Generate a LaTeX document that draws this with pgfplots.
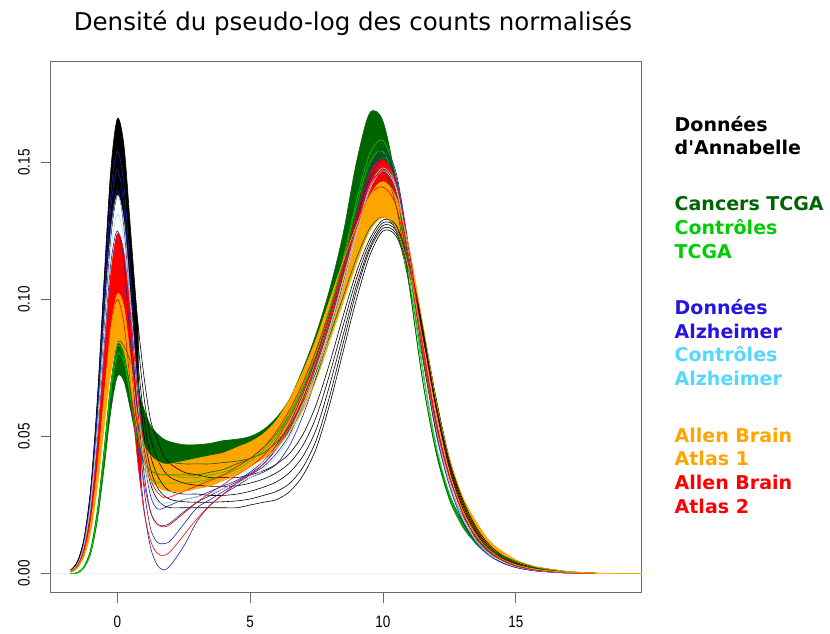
\documentclass[border=0pt]{standalone}
\usepackage{fontspec}
\setmainfont{DejaVu Sans}
\newfontfamily\tickfont[FakeStretch=0.82]{Liberation Sans}
\usepackage{pgfplots}
\pgfplotsset{compat=1.18}
\usepackage{pgfplotstable}
\usepgfplotslibrary{fillbetween}

\definecolor{axgray}{RGB}{105,105,105}
\definecolor{tcgadark}{RGB}{0,100,0}
\definecolor{tcgalight}{RGB}{0,205,0}
\definecolor{alzline}{RGB}{30,30,160}
\definecolor{alztext}{RGB}{40,20,225}
\definecolor{alzctrl}{RGB}{173,216,230}
\definecolor{alzctrltext}{RGB}{85,215,255}
\definecolor{abaone}{RGB}{255,165,0}
\definecolor{abatwo}{RGB}{255,0,0}

% Annabelle (black)
\pgfplotstableread{
x lo b4 mid b5 hi
-1.75 0.0010 0.0011 0.0012 0.0012 0.0013
-1.5 0.0036 0.0038 0.0041 0.0043 0.0045
-1.25 0.0107 0.0113 0.0120 0.0126 0.0131
-1 0.0264 0.0278 0.0292 0.0305 0.0317
-0.75 0.0536 0.0565 0.0592 0.0618 0.0644
-0.5 0.0897 0.0945 0.0990 0.1032 0.1073
-0.25 0.1225 0.1290 0.1355 0.1413 0.1470
0 0.1380 0.1450 0.1540 0.1600 0.1660
0.25 0.1285 0.1350 0.1430 0.1495 0.1560
0.5 0.1007 0.1060 0.1120 0.1185 0.1250
0.75 0.0696 0.0750 0.0800 0.0870 0.0940
1 0.0454 0.0510 0.0570 0.0645 0.0720
1.25 0.0327 0.0380 0.0430 0.0495 0.0560
1.5 0.0271 0.0315 0.0360 0.0420 0.0490
1.75 0.0248 0.0285 0.0320 0.0375 0.0430
2 0.0240 0.0270 0.0300 0.0350 0.0400
2.5 0.0240 0.0262 0.0290 0.0330 0.0370
3 0.0240 0.0260 0.0290 0.0322 0.0360
3.5 0.0240 0.0260 0.0285 0.0318 0.0350
4 0.0240 0.0262 0.0285 0.0318 0.0350
4.5 0.0240 0.0265 0.0290 0.0320 0.0350
5 0.0250 0.0272 0.0300 0.0330 0.0360
5.5 0.0260 0.0285 0.0315 0.0345 0.0375
6 0.0270 0.0300 0.0335 0.0368 0.0400
6.5 0.0300 0.0330 0.0370 0.0405 0.0440
7 0.0360 0.0390 0.0430 0.0470 0.0510
7.5 0.0460 0.0490 0.0530 0.0575 0.0620
8 0.0620 0.0650 0.0690 0.0730 0.0770
8.5 0.0810 0.0840 0.0870 0.0905 0.0940
9 0.1000 0.1030 0.1050 0.1075 0.1100
9.5 0.1160 0.1180 0.1190 0.1205 0.1220
10 0.1250 0.1260 0.1270 0.1280 0.1290
10.5 0.1230 0.1240 0.1250 0.1260 0.1270
11 0.1090 0.1100 0.1110 0.1120 0.1130
11.5 0.0860 0.0870 0.0880 0.0890 0.0900
12 0.0600 0.0610 0.0620 0.0630 0.0640
12.5 0.0380 0.0390 0.0400 0.0410 0.0420
13 0.0230 0.0240 0.0250 0.0260 0.0270
13.5 0.0140 0.0148 0.0155 0.0162 0.0170
14 0.0080 0.0086 0.0092 0.0098 0.0105
14.5 0.0048 0.0052 0.0056 0.0060 0.0065
15 0.0028 0.0031 0.0034 0.0037 0.0040
15.5 0.0016 0.0018 0.0020 0.0022 0.0025
16 0.0009 0.0010 0.0012 0.0013 0.0015
17 0.0002 0.0002 0.0003 0.0003 0.0004
18 0.0000 0.0000 0.0000 0.0000 0.0000
}\annabelle

% Cancers TCGA (dark green)
\pgfplotstableread{
x lo low hi
-1.75 0.0000 0.0000 0.0000
-1.5 0.0003 0.0003 0.0004
-1.25 0.0023 0.0025 0.0027
-1 0.0074 0.0080 0.0091
-0.75 0.0196 0.0210 0.0235
-0.5 0.0385 0.0410 0.0455
-0.25 0.0591 0.0625 0.0692
0 0.0720 0.0760 0.0840
0.25 0.0701 0.0745 0.0830
0.5 0.0595 0.0650 0.0770
0.75 0.0476 0.0550 0.0680
1 0.0404 0.0480 0.0600
1.25 0.0375 0.0440 0.0540
1.5 0.0363 0.0420 0.0510
1.75 0.0360 0.0410 0.0490
2 0.0360 0.0405 0.0480
2.5 0.0360 0.0400 0.0470
3 0.0360 0.0400 0.0470
3.5 0.0370 0.0400 0.0475
4 0.0380 0.0405 0.0485
4.5 0.0400 0.0410 0.0490
5 0.0420 0.0420 0.0500
5.5 0.0460 0.0440 0.0525
6 0.0510 0.0480 0.0570
6.5 0.0580 0.0540 0.0640
7 0.0680 0.0630 0.0750
7.5 0.0800 0.0740 0.0880
8 0.0950 0.0870 0.1040
8.5 0.1120 0.1010 0.1240
9 0.1300 0.1150 0.1500
9.5 0.1440 0.1260 0.1680
10 0.1470 0.1300 0.1650
10.5 0.1340 0.1250 0.1420
11 0.1040 0.1050 0.1050
11.5 0.0700 0.0780 0.0700
12 0.0440 0.0520 0.0450
12.5 0.0270 0.0330 0.0290
13 0.0170 0.0210 0.0190
13.5 0.0110 0.0135 0.0130
14 0.0070 0.0090 0.0090
14.5 0.0045 0.0060 0.0065
15 0.0030 0.0040 0.0045
15.5 0.0020 0.0026 0.0030
16 0.0012 0.0017 0.0020
17 0.0004 0.0006 0.0007
18 0.0000 0.0002 0.0002
}\tcgacancer

% Controles TCGA (light green)
\pgfplotstableread{
x a b
-1.75 0.0000 0.0000
-1.5 0.0004 0.0002
-1.25 0.0025 0.0020
-1 0.0082 0.0078
-0.75 0.0218 0.0215
-0.5 0.0431 0.0435
-0.25 0.0661 0.0680
0 0.0800 0.0830
0.25 0.0771 0.0790
0.5 0.0641 0.0640
0.75 0.0498 0.0480
1 0.0412 0.0385
1.25 0.0377 0.0345
1.5 0.0364 0.0332
1.75 0.0360 0.0330
2 0.0360 0.0330
2.5 0.0350 0.0330
3 0.0350 0.0335
3.5 0.0360 0.0345
4 0.0370 0.0360
4.5 0.0390 0.0380
5 0.0420 0.0410
5.5 0.0460 0.0450
6 0.0510 0.0500
6.5 0.0590 0.0580
7 0.0690 0.0680
7.5 0.0820 0.0810
8 0.0970 0.0970
8.5 0.1140 0.1150
9 0.1340 0.1360
9.5 0.1500 0.1530
10 0.1540 0.1580
10.5 0.1400 0.1440
11 0.1080 0.1110
11.5 0.0730 0.0750
12 0.0460 0.0470
12.5 0.0280 0.0290
13 0.0170 0.0180
13.5 0.0110 0.0115
14 0.0070 0.0072
14.5 0.0045 0.0046
15 0.0030 0.0030
15.5 0.0020 0.0020
16 0.0012 0.0012
17 0.0004 0.0004
18 0.0000 0.0000
}\tcgactrl

% Donnees Alzheimer (blue)
\pgfplotstableread{
x b1 b2 b3 b4
-1.75 0.0009 0.0008 0.0009 0.0009
-1.5 0.0038 0.0030 0.0034 0.0036
-1.25 0.0118 0.0095 0.0106 0.0112
-1 0.0297 0.0239 0.0269 0.0283
-0.75 0.0608 0.0494 0.0553 0.0585
-0.5 0.1013 0.0828 0.0924 0.0975
-0.25 0.1383 0.1128 0.1260 0.1330
0 0.1540 0.1250 0.1400 0.1475
0.25 0.1413 0.1128 0.1260 0.1335
0.5 0.1073 0.0828 0.0944 0.1000
0.75 0.0703 0.0494 0.0585 0.0640
1 0.0427 0.0239 0.0314 0.0370
1.25 0.0283 0.0095 0.0164 0.0225
1.5 0.0236 0.0031 0.0114 0.0180
1.75 0.0239 0.0013 0.0109 0.0175
2 0.0250 0.0030 0.0120 0.0185
2.5 0.0270 0.0100 0.0180 0.0225
3 0.0280 0.0190 0.0240 0.0260
3.5 0.0300 0.0250 0.0270 0.0285
4 0.0320 0.0290 0.0300 0.0310
4.5 0.0340 0.0320 0.0330 0.0335
5 0.0370 0.0350 0.0360 0.0365
5.5 0.0410 0.0370 0.0390 0.0400
6 0.0470 0.0400 0.0440 0.0455
6.5 0.0550 0.0470 0.0510 0.0530
7 0.0660 0.0580 0.0620 0.0640
7.5 0.0790 0.0720 0.0760 0.0775
8 0.0940 0.0880 0.0910 0.0925
8.5 0.1110 0.1060 0.1090 0.1100
9 0.1300 0.1250 0.1280 0.1290
9.5 0.1470 0.1410 0.1440 0.1455
10 0.1550 0.1470 0.1510 0.1530
10.5 0.1460 0.1390 0.1430 0.1445
11 0.1170 0.1120 0.1150 0.1160
11.5 0.0820 0.0790 0.0810 0.0815
12 0.0530 0.0510 0.0520 0.0525
12.5 0.0330 0.0320 0.0330 0.0330
13 0.0200 0.0190 0.0200 0.0200
13.5 0.0120 0.0110 0.0120 0.0120
14 0.0070 0.0065 0.0070 0.0070
14.5 0.0040 0.0038 0.0040 0.0040
15 0.0024 0.0022 0.0023 0.0023
15.5 0.0014 0.0013 0.0013 0.0013
16 0.0008 0.0007 0.0008 0.0008
17 0.0002 0.0002 0.0002 0.0002
18 0.0000 0.0000 0.0000 0.0000
}\alzdata

% Controles Alzheimer (light blue)
\pgfplotstableread{
x a b
-1.75 0.0008 0.0009
-1.5 0.0033 0.0035
-1.25 0.0101 0.0108
-1 0.0249 0.0268
-0.75 0.0514 0.0548
-0.5 0.0858 0.0912
-0.25 0.1173 0.1240
0 0.1310 0.1380
0.25 0.1218 0.1280
0.5 0.0948 0.0995
0.75 0.0644 0.0680
1 0.0419 0.0450
1.25 0.0305 0.0340
1.5 0.0260 0.0295
1.75 0.0258 0.0290
2 0.0260 0.0290
2.5 0.0270 0.0300
3 0.0280 0.0310
3.5 0.0290 0.0320
4 0.0310 0.0340
4.5 0.0330 0.0360
5 0.0350 0.0380
5.5 0.0380 0.0410
6 0.0430 0.0455
6.5 0.0500 0.0520
7 0.0600 0.0620
7.5 0.0730 0.0750
8 0.0880 0.0900
8.5 0.1050 0.1070
9 0.1240 0.1250
9.5 0.1400 0.1410
10 0.1470 0.1480
10.5 0.1400 0.1410
11 0.1140 0.1150
11.5 0.0810 0.0820
12 0.0530 0.0540
12.5 0.0330 0.0340
13 0.0200 0.0205
13.5 0.0120 0.0125
14 0.0070 0.0073
14.5 0.0042 0.0044
15 0.0025 0.0026
15.5 0.0015 0.0016
16 0.0009 0.0009
17 0.0002 0.0002
18 0.0000 0.0000
}\alzctrldata

% Allen Brain Atlas 2 (red)
\pgfplotstableread{
x lo mid hi
-1.75 0.0006 0.0007 0.0007
-1.5 0.0025 0.0027 0.0030
-1.25 0.0077 0.0085 0.0093
-1 0.0192 0.0210 0.0229
-0.75 0.0395 0.0432 0.0472
-0.5 0.0659 0.0722 0.0791
-0.25 0.0899 0.0990 0.1090
0 0.1000 0.1120 0.1240
0.25 0.0909 0.1035 0.1170
0.5 0.0679 0.0800 0.0941
0.75 0.0422 0.0535 0.0672
1 0.0227 0.0335 0.0464
1.25 0.0119 0.0225 0.0345
1.5 0.0074 0.0180 0.0297
1.75 0.0066 0.0170 0.0277
2 0.0081 0.0180 0.0280
2.5 0.0140 0.0220 0.0300
3 0.0200 0.0260 0.0320
3.5 0.0250 0.0295 0.0340
4 0.0290 0.0325 0.0360
4.5 0.0330 0.0360 0.0390
5 0.0360 0.0390 0.0420
5.5 0.0400 0.0430 0.0460
6 0.0460 0.0490 0.0520
6.5 0.0540 0.0570 0.0600
7 0.0640 0.0670 0.0700
7.5 0.0770 0.0795 0.0820
8 0.0920 0.0940 0.0960
8.5 0.1090 0.1110 0.1130
9 0.1260 0.1285 0.1310
9.5 0.1380 0.1420 0.1460
10 0.1410 0.1460 0.1510
10.5 0.1340 0.1385 0.1430
11 0.1110 0.1140 0.1170
11.5 0.0800 0.0820 0.0840
12 0.0540 0.0550 0.0560
12.5 0.0350 0.0355 0.0360
13 0.0220 0.0220 0.0220
13.5 0.0130 0.0130 0.0130
14 0.0080 0.0080 0.0080
14.5 0.0048 0.0048 0.0048
15 0.0028 0.0028 0.0028
15.5 0.0017 0.0017 0.0017
16 0.0010 0.0010 0.0010
17 0.0003 0.0003 0.0003
18 0.0000 0.0000 0.0000
}\abatwodata

% Allen Brain Atlas 1 (orange)
\pgfplotstableread{
x lo hi
-1.75 0.0004 0.0005
-1.5 0.0020 0.0025
-1.25 0.0063 0.0077
-1 0.0154 0.0187
-0.75 0.0317 0.0384
-0.5 0.0533 0.0643
-0.25 0.0731 0.0890
0 0.0840 0.1020
0.25 0.0811 0.0970
0.5 0.0683 0.0780
0.75 0.0527 0.0580
1 0.0414 0.0470
1.25 0.0343 0.0430
1.5 0.0317 0.0410
1.75 0.0304 0.0400
2 0.0300 0.0400
2.5 0.0300 0.0410
3 0.0310 0.0420
3.5 0.0320 0.0430
4 0.0340 0.0440
4.5 0.0360 0.0460
5 0.0390 0.0480
5.5 0.0420 0.0510
6 0.0460 0.0560
6.5 0.0520 0.0640
7 0.0600 0.0740
7.5 0.0710 0.0860
8 0.0850 0.1000
8.5 0.0990 0.1140
9 0.1130 0.1270
9.5 0.1250 0.1380
10 0.1300 0.1430
10.5 0.1260 0.1370
11 0.1100 0.1180
11.5 0.0850 0.0910
12 0.0580 0.0630
12.5 0.0370 0.0420
13 0.0230 0.0280
13.5 0.0140 0.0190
14 0.0085 0.0120
14.5 0.0052 0.0080
15 0.0032 0.0050
15.5 0.0020 0.0032
16 0.0012 0.0020
17 0.0004 0.0007
18 0.0001 0.0002
19 0.0000 0.0001
19.7 0.0000 0.0000
}\abaonedata

\begin{document}
\begin{tikzpicture}
\begin{axis}[
    at={(50.7pt,40.3pt)}, anchor=south west,
    scale only axis, width=591pt, height=531.7pt,
    xmin=-2.51, xmax=19.74, ymin=-0.0070, ymax=0.1870,
    axis line style={draw=axgray, line width=0.9pt},
    tick style={draw=axgray, line width=0.9pt},
    tick align=outside, major tick length=10pt, tick pos=left,
    xtick={0,5,10,15}, xticklabels={0,5,10,15},
    ytick={0,0.05,0.1,0.15}, yticklabels={0.00,0.05,0.10,0.15},
    xticklabel style={font=\tickfont\fontsize{16.5}{18}\selectfont, anchor=base, yshift=-25pt},
    yticklabel style={font=\tickfont\fontsize{16.5}{18}\selectfont, rotate=90, anchor=base, yshift=11pt},
    dens/.style={smooth, line width=0.6pt},
  ]
  \addplot[draw=black!5, line width=0.8pt] coordinates {(-2.51,0) (19.74,0)};

  % Annabelle
  \addplot[dens, black, name path=blo] table[x=x, y=lo] {\annabelle};
  \addplot[dens, black, name path=bhi] table[x=x, y=hi] {\annabelle};
  \addplot[black] fill between[of=blo and bhi, soft clip={domain=-2:0.8}, on layer={}];
  \addplot[dens, black] table[x=x, y=b4] {\annabelle};
  \addplot[dens, black] table[x=x, y=mid] {\annabelle};
  \addplot[dens, black] table[x=x, y=b5] {\annabelle};

  % TCGA cancers
  \addplot[dens, tcgadark, name path=glo] table[x=x, y=lo] {\tcgacancer};
  \addplot[dens, tcgadark, name path=ghi] table[x=x, y=hi] {\tcgacancer};
  \addplot[tcgadark] fill between[of=glo and ghi, on layer={}];
  \addplot[dens, tcgadark] table[x=x, y=low] {\tcgacancer};

  % TCGA controls
  \addplot[dens, tcgalight] table[x=x, y=a] {\tcgactrl};
  \addplot[dens, tcgalight] table[x=x, y=b] {\tcgactrl};

  % Alzheimer
  \addplot[dens, alzline] table[x=x, y=b1] {\alzdata};
  \addplot[dens, alzline] table[x=x, y=b2] {\alzdata};
  \addplot[dens, alzline] table[x=x, y=b3] {\alzdata};
  \addplot[dens, alzline] table[x=x, y=b4] {\alzdata};
  \addplot[dens, alzctrl] table[x=x, y=a] {\alzctrldata};
  \addplot[dens, alzctrl] table[x=x, y=b] {\alzctrldata};

  % Allen Brain Atlas 2
  \addplot[dens, abatwo, name path=rlo] table[x=x, y=lo] {\abatwodata};
  \addplot[dens, abatwo, name path=rhi] table[x=x, y=hi] {\abatwodata};
  \addplot[abatwo] fill between[of=rlo and rhi, soft clip={domain=-2:0.9}, on layer={}];
  \addplot[abatwo] fill between[of=rlo and rhi, soft clip={domain=7:19}, on layer={}];
  \addplot[dens, abatwo] table[x=x, y=mid] {\abatwodata};

  % Allen Brain Atlas 1
  \addplot[dens, abaone, name path=olo] table[x=x, y=lo] {\abaonedata};
  \addplot[dens, abaone, name path=ohi] table[x=x, y=hi] {\abaonedata};
  \addplot[abaone] fill between[of=olo and ohi, on layer={}];
\end{axis}

\node[anchor=base west, inner sep=0pt, font=\fontsize{24.5}{28}\selectfont] at (73.6pt,602pt) {Densité du pseudo-log des counts normalisés};

\begin{scope}[every node/.style={anchor=base west, inner sep=0pt, font=\bfseries\fontsize{19}{22}\selectfont}]
  \node[text=black] at (674.5pt,501pt) {Données};
  \node[text=black] at (674.5pt,478pt) {d\textquotesingle Annabelle};
  \node[text=tcgadark] at (674.5pt,422pt) {Cancers TCGA};
  \node[text=tcgalight] at (674.5pt,398.5pt) {Contrôles};
  \node[text=tcgalight] at (674.5pt,374.5pt) {TCGA};
  \node[text=alztext] at (674.5pt,319pt) {Données};
  \node[text=alztext] at (674.5pt,295pt) {Alzheimer};
  \node[text=alzctrltext] at (674.5pt,271.5pt) {Contrôles};
  \node[text=alzctrltext] at (674.5pt,247.5pt) {Alzheimer};
  \node[text=abaone] at (674.5pt,191pt) {Allen Brain};
  \node[text=abaone] at (674.5pt,167.5pt) {Atlas 1};
  \node[text=abatwo] at (674.5pt,144pt) {Allen Brain};
  \node[text=abatwo] at (674.5pt,120pt) {Atlas 2};
\end{scope}
\path (0pt,0pt) rectangle (830pt,633pt);
\end{tikzpicture}
\end{document}
